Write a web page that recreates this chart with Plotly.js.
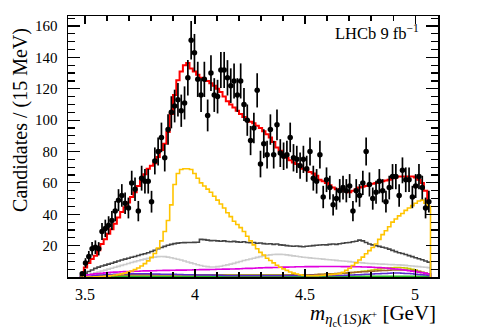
<!DOCTYPE html>
<html>
<head>
<meta charset="utf-8">
<script src="https://cdn.plot.ly/plotly-3.0.1.min.js"></script>
<style>html,body{margin:0;padding:0;background:#fff;}#plot{width:488px;height:331px;}</style>
</head>
<body>
<div id="plot"></div>
<script>
// Binning: 15 MeV bins starting at 3.48 GeV
const binLo = 3.48;
const binW = 0.015;

// Data: candidates per bin
const dataCounts = [
  2, 9, 13, 18, 19, 18, 29, 31, 33, 36,
  42, 49, 52, 47, 44, 60, 56, 42, 63, 61,
  61, 48, 74, 80, 89, 76, 94, 105, 109, 113,
  106, 111, 127, 151, 143, 126, 116, 126, 103, 130,
  116, 115, 132, 132, 127, 122, 125, 116, 125, 110,
  100, 87, 95, 119, 72, 85, 78, 94, 78, 97,
  79, 77, 78, 89, 76, 75, 71, 75, 69, 80,
  63, 61, 78, 51, 62, 57, 46, 50, 55, 57,
  55, 58, 42, 55, 52, 60, 80, 59, 50, 54,
  61, 55, 48, 57, 64, 64, 52, 68, 62, 62,
  51, 58, 64, 57, 44, 48
];

// Total fit
const fitTotal = [
  2, 6, 9, 11.5, 13.5, 17, 21, 24, 27.5, 30.5,
  34, 38, 41.5, 44.5, 47.5, 51, 54, 58, 61.5, 65.5,
  69, 71, 72.5, 76.5, 81, 85, 92.5, 104, 116, 125.5,
  131, 135, 136.5, 133, 131, 129, 127, 126, 125, 123.5,
  122, 120, 118, 115, 112, 110, 108, 106, 104, 102,
  100, 99, 98, 96.5, 95, 93, 91, 89, 86, 82.5,
  80.5, 78, 76, 74.5, 73, 72, 70.5, 69, 68, 67,
  66, 64.5, 62, 61, 60, 58.5, 57, 56, 55, 55,
  54.5, 54, 55, 56, 57, 57.5, 58, 59, 59.5, 60,
  60.5, 61, 61.5, 62, 63, 63.5, 64, 64, 64, 64,
  64, 63.5, 62, 60, 55, 48
];

// Components
const compGold = [
  0, 0, 0, 0, 0.1, 0.2, 0.3, 0.5, 0.7, 1.0,
  1.3, 1.6, 2.0, 2.5, 3.1, 3.8, 4.7, 5.7, 7.0, 8.5,
  10.3, 12.5, 15, 18.5, 23, 29, 36, 46, 59, 66,
  68.5, 69, 69, 68.5, 66, 63, 60, 58, 56, 54,
  51.5, 49, 46.5, 44, 41, 38.5, 35.5, 33.5, 31.5, 29,
  26, 23, 20.5, 18, 15.7, 14, 12, 10.5, 9, 7.5,
  6.2, 5.2, 4.2, 3.2, 2.5, 1.9, 1.4, 1.1, 0.9, 0.8,
  0.8, 0.9, 1.0, 1.1, 1.3, 1.5, 1.7, 1.9, 2.2, 3.0,
  4.2, 5.6, 7.3, 9.0, 10.8, 12.7, 14.8, 16.8, 18.8, 21,
  24, 27, 29.5, 32, 35, 37, 39, 40.5, 42.5, 44,
  45.5, 47, 48.5, 49, 47, 45
];
const compDarkGray = [
  1, 2.5, 3.5, 4.5, 5.5, 6.3, 7.0, 7.6, 8.2, 8.8,
  9.5, 10.2, 10.8, 11.4, 12.0, 12.6, 13.1, 13.7, 14.3, 14.8,
  15.5, 16.3, 17.0, 18.0, 18.8, 19.5, 20.2, 20.8, 21.3, 21.6,
  21.8, 21.9, 22.0, 22.0, 22.1, 22.2, 24.0, 23.8, 23.5, 23.2,
  23.3, 23.0, 22.8, 23.0, 22.6, 22.5, 22.7, 22.4, 22.2, 22.5,
  22.0, 21.8, 22.0, 21.5, 21.7, 21.3, 21.0, 21.2, 20.8, 21.0,
  20.5, 20.3, 20.0, 19.8, 19.6, 19.8, 19.5, 19.3, 19.6, 19.8,
  20.0, 20.2, 20.4, 20.6, 20.5, 20.8, 21.0, 20.8, 21.2, 21.5,
  21.8, 22.0, 22.5, 22.8, 23.5, 23.0, 22.0, 21.0, 20.5, 20.0,
  19.5, 19.0, 18.5, 17.8, 17.0, 16.2, 15.5, 15.0, 14.3, 13.6,
  13.0, 12.3, 11.6, 11.0, 10.2, 9.5
];
const compLightGray = [
  0.5, 1, 1.5, 2, 2.6, 3.2, 3.8, 4.4, 5, 5.6,
  6.2, 6.8, 7.4, 8, 8.6, 9.2, 9.8, 10.4, 10.9, 11.4,
  11.9, 12.3, 12.7, 13.0, 13.1, 13.0, 12.7, 12.3, 11.8, 11.3,
  10.8, 10.2, 9.6, 9.0, 8.4, 7.8, 7.3, 6.9, 6.6, 6.4,
  6.4, 6.6, 6.9, 7.3, 7.7, 8.2, 8.7, 9.3, 9.9, 10.5,
  11.0, 11.5, 12.0, 12.5, 13.0, 13.5, 13.8, 14.1, 14.3, 14.4,
  14.4, 14.3, 14.1, 13.8, 13.5, 13.2, 12.9, 12.6, 12.4, 12.2,
  12.0, 11.8, 11.6, 11.4, 11.2, 11.0, 10.8, 10.6, 10.4, 10.2,
  10.0, 9.8, 9.6, 9.4, 9.2, 9.0, 8.8, 8.6, 8.5, 8.4,
  8.3, 8.2, 8.1, 8.0, 7.9, 7.8, 7.7, 7.6, 7.4, 7.2,
  7.0, 6.8, 6.6, 6.4, 6.2, 6.0
];
const compMagenta = [
  0.8, 1.1, 1.4, 1.7, 2.0, 2.2, 2.4, 2.6, 2.8, 3.0,
  3.1, 3.2, 3.3, 3.4, 3.5, 3.6, 3.7, 3.7, 3.8, 3.9,
  3.9, 4.0, 4.0, 4.1, 4.1, 4.2, 4.2, 4.3, 4.3, 4.4,
  4.4, 4.4, 4.5, 4.5, 4.6, 4.6, 4.7, 4.7, 4.7, 4.8,
  4.8, 4.9, 4.9, 5.0, 5.0, 5.1, 5.1, 5.2, 5.3, 5.4,
  5.5, 5.5, 5.6, 5.7, 5.8, 5.9, 6.0, 6.0, 6.1, 6.1,
  6.2, 6.3, 6.3, 6.4, 6.4, 6.5, 6.5, 6.5, 6.6, 6.6,
  6.6, 6.6, 6.7, 6.7, 6.7, 6.7, 6.7, 6.7, 6.7, 6.6,
  6.6, 6.6, 6.5, 6.5, 6.5, 6.4, 6.4, 6.3, 6.2, 6.1,
  6.0, 5.9, 5.7, 5.5, 5.3, 5.1, 4.9, 4.6, 4.3, 4.0,
  3.7, 3.4, 3.0, 2.7, 2.3, 2.0
];
const compViolet = [
  0.2, 0.4, 0.6, 0.8, 1.0, 1.2, 1.3, 1.4, 1.5, 1.6,
  1.7, 1.8, 1.8, 1.9, 1.9, 2.0, 2.0, 2.0, 2.0, 2.0,
  2.0, 1.9, 1.9, 1.9, 1.8, 1.8, 1.8, 1.7, 1.7, 1.6,
  1.6, 1.5, 1.5, 1.4, 1.4, 1.3, 1.3, 1.2, 1.2, 1.2,
  1.1, 1.1, 1.1, 1.0, 1.0, 1.0, 1.0, 1.0, 1.0, 1.0,
  1.0, 1.0, 1.0, 1.0, 1.0, 1.0, 1.0, 1.0, 1.0, 1.0,
  1.0, 1.0, 1.0, 1.0, 1.0, 1.0, 1.0, 1.0, 1.0, 1.0,
  1.0, 1.0, 1.0, 1.0, 1.0, 1.0, 1.0, 1.0, 1.0, 1.0,
  1.1, 1.2, 1.3, 1.4, 1.5, 1.6, 1.7, 1.8, 1.9, 2.0,
  2.1, 2.2, 2.3, 2.4, 2.5, 2.5, 2.5, 2.4, 2.3, 2.2,
  2.0, 1.8, 1.6, 1.4, 1.2, 1.0
];
const compBrown = [
  0, 0.1, 0.2, 0.3, 0.4, 0.5, 0.6, 0.7, 0.8, 0.9,
  1.0, 1.1, 1.2, 1.3, 1.3, 1.4, 1.4, 1.5, 1.5, 1.5,
  1.5, 1.5, 1.5, 1.5, 1.5, 1.5, 1.5, 1.5, 1.5, 1.5,
  1.5, 1.5, 1.4, 1.4, 1.4, 1.3, 1.3, 1.3, 1.2, 1.2,
  1.2, 1.1, 1.1, 1.1, 1.0, 1.0, 1.0, 1.0, 1.0, 1.0,
  1.0, 1.0, 1.0, 1.0, 1.0, 1.0, 1.0, 1.0, 1.0, 1.0,
  1.0, 1.0, 1.1, 1.1, 1.2, 1.2, 1.3, 1.3, 1.4, 1.4,
  1.5, 1.6, 1.7, 1.8, 1.9, 2.0, 2.1, 2.2, 2.4, 2.5,
  2.6, 2.8, 2.9, 3.0, 3.2, 3.3, 3.4, 3.6, 3.7, 3.8,
  4.0, 4.1, 4.2, 4.3, 4.4, 4.5, 4.5, 4.5, 4.4, 4.3,
  4.1, 3.8, 3.5, 3.1, 2.6, 2.0
];
const compOlive = [
  0, 0.2, 0.4, 0.6, 0.8, 1.0, 1.1, 1.2, 1.3, 1.4,
  1.5, 1.5, 1.5, 1.5, 1.5, 1.5, 1.5, 1.5, 1.5, 1.5,
  1.5, 1.5, 1.5, 1.5, 1.5, 1.5, 1.5, 1.5, 1.5, 1.5,
  1.5, 1.5, 1.5, 1.5, 1.5, 1.5, 1.5, 1.5, 1.5, 1.5,
  1.5, 1.5, 1.5, 1.5, 1.5, 1.5, 1.5, 1.5, 1.5, 1.5,
  1.5, 1.5, 1.5, 1.5, 1.5, 1.5, 1.5, 1.5, 1.5, 1.5,
  1.5, 1.5, 1.5, 1.5, 1.5, 1.5, 1.5, 1.5, 1.5, 1.5,
  1.5, 1.5, 1.6, 1.6, 1.7, 1.8, 1.9, 2.0, 2.1, 2.2,
  2.4, 2.6, 2.8, 3.0, 3.3, 3.6, 3.9, 4.2, 4.5, 4.8,
  5.1, 5.4, 5.6, 5.8, 5.9, 6.0, 6.0, 5.9, 5.7, 5.4,
  5.0, 4.4, 3.7, 2.9, 2.0, 1.2
];
const compGreen = [
  0.3, 0.3, 0.3, 0.3, 0.4, 0.4, 0.4, 0.4, 0.4, 0.4,
  0.4, 0.4, 0.4, 0.4, 0.4, 0.4, 0.4, 0.4, 0.4, 0.4,
  0.4, 0.4, 0.4, 0.4, 0.4, 0.4, 0.4, 0.4, 0.4, 0.4,
  0.4, 0.4, 0.4, 0.4, 0.4, 0.4, 0.4, 0.4, 0.4, 0.4,
  0.4, 0.4, 0.4, 0.4, 0.4, 0.4, 0.4, 0.4, 0.4, 0.4,
  0.4, 0.4, 0.4, 0.4, 0.4, 0.4, 0.4, 0.4, 0.4, 0.4,
  0.4, 0.4, 0.4, 0.4, 0.4, 0.4, 0.4, 0.4, 0.4, 0.4,
  0.4, 0.4, 0.4, 0.4, 0.4, 0.4, 0.4, 0.4, 0.4, 0.4,
  0.4, 0.4, 0.4, 0.4, 0.4, 0.4, 0.4, 0.4, 0.4, 0.4,
  0.4, 0.4, 0.4, 0.4, 0.4, 0.4, 0.4, 0.4, 0.4, 0.4,
  0.4, 0.4, 0.4, 0.4, 0.4, 0.4
];

const xTickVals = [3.5, 4, 4.5, 5];
const xTickText = ['3.5', '4', '4.5', '5'];
const yTickVals = [20, 40, 60, 80, 100, 120, 140, 160];
const yTickText = ['20', '40', '60', '80', '100', '120', '140', '160'];

function stepTrace(vals, color, width, drop) {
  const xs = [], ys = [];
  if (drop) { xs.push(binLo); ys.push(0); }
  for (let i = 0; i < vals.length; i++) { xs.push(binLo + i * binW); ys.push(vals[i]); }
  xs.push(binLo + vals.length * binW); ys.push(vals[vals.length - 1]);
  if (drop) { xs.push(binLo + vals.length * binW); ys.push(0); }
  return { x: xs, y: ys, type: 'scatter', mode: 'lines',
    line: { shape: 'hv', color: color, width: width }, hoverinfo: 'skip', showlegend: false };
}

const centers = dataCounts.map((_, i) => binLo + (i + 0.5) * binW);

const traces = [
  stepTrace(compGreen, '#22bb22', 1.5, true),
  stepTrace(compOlive, '#c8c800', 1.5, true),
  stepTrace(compBrown, '#a0662a', 1.5, true),
  stepTrace(compViolet, '#5a2ccf', 1.5, true),
  stepTrace(compLightGray, '#cccccc', 1.6, true),
  stepTrace(compMagenta, '#e000e0', 1.6, true),
  stepTrace(compDarkGray, '#444444', 1.6, true),
  stepTrace(compGold, '#ffc400', 1.6, true),
  stepTrace(fitTotal, '#ff0000', 2.0, false),
  { x: centers, y: dataCounts, type: 'scatter', mode: 'markers',
    marker: { color: '#000', size: 5.5, symbol: 'circle' },
    error_y: { type: 'sqrt', color: '#000', thickness: 1.7, width: 0 },
    hoverinfo: 'skip', showlegend: false }
];

const font = '"Liberation Serif", "Times New Roman", serif';

const layout = {
  width: 488, height: 331,
  margin: { l: 68, r: 50, t: 16, b: 54 },
  paper_bgcolor: '#fff', plot_bgcolor: '#fff',
  showlegend: false,
  font: { family: font, color: '#000' },
  xaxis: {
    range: [3.423, 5.104],
    tickmode: 'array', tickvals: xTickVals, ticktext: xTickText,
    ticks: 'inside', ticklen: 8, tickwidth: 1.2, tickcolor: '#000',
    minor: { tickmode: 'linear', tick0: 3.5, dtick: 0.1, ticks: 'inside', ticklen: 5, tickwidth: 1.2, tickcolor: '#000', showgrid: false },
    showline: true, linecolor: '#000', linewidth: 1.5, mirror: 'ticks',
    showgrid: false, zeroline: false,
    tickfont: { family: font, size: 16, color: '#000' },
    ticklabelstandoff: 2
  },
  yaxis: {
    range: [0, 166.4],
    tickmode: 'array', tickvals: yTickVals, ticktext: yTickText,
    ticks: 'inside', ticklen: 12, tickwidth: 1.2, tickcolor: '#000',
    minor: { tickmode: 'linear', tick0: 0, dtick: 5, ticks: 'inside', ticklen: 7, tickwidth: 1.2, tickcolor: '#000', showgrid: false },
    showline: true, linecolor: '#000', linewidth: 1.5, mirror: 'ticks',
    showgrid: false, zeroline: false,
    tickfont: { family: font, size: 15, color: '#000' },
    ticklabelstandoff: 6
  },
  annotations: [
    { text: 'Candidates / (15 MeV)', xref: 'paper', yref: 'paper',
      x: -0.13, y: 0.6015, xanchor: 'center', yanchor: 'middle', textangle: -90,
      showarrow: false, font: { family: font, size: 20, color: '#000' } },
    { text: '<i>m</i><sub><i>η</i><sub>c</sub>(1<i>S</i>)<i>K</i><sup>+</sup></sub> [GeV]',
      xref: 'paper', yref: 'paper', x: 1.0, y: -0.145, xanchor: 'right', yanchor: 'middle',
      showarrow: false, font: { family: font, size: 21, color: '#000' } },
    { text: 'LHCb 9 fb<sup>−1</sup>', xref: 'paper', yref: 'paper',
      x: 0.716, y: 0.938, xanchor: 'left', yanchor: 'middle',
      showarrow: false, font: { family: font, size: 16.5, color: '#000' } }
  ]
};

Plotly.newPlot('plot', traces, layout, { displayModeBar: false, staticPlot: true });
</script>
</body>
</html>
